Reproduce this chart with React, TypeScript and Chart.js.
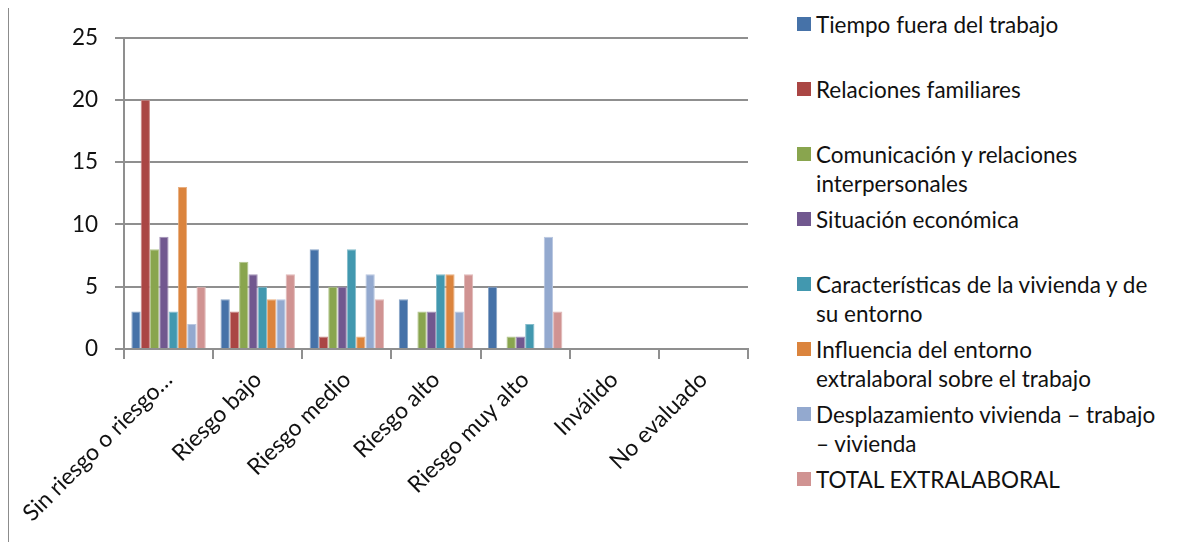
import React, { useEffect, useRef } from "react";
import { Chart, registerables } from "chart.js";

Chart.register(...registerables);

// Risk levels on the category axis
const categories = [
  "Sin riesgo o riesgo…",
  "Riesgo bajo",
  "Riesgo medio",
  "Riesgo alto",
  "Riesgo muy alto",
  "Inválido",
  "No evaluado",
];

// Counts per dimension, one value per risk level
const tiempoFuera = [3, 4, 8, 4, 5, 0, 0];
const relacionesFamiliares = [20, 3, 1, 0, 0, 0, 0];
const comunicacion = [8, 7, 5, 3, 1, 0, 0];
const situacionEconomica = [9, 6, 5, 3, 1, 0, 0];
const caracteristicasVivienda = [3, 5, 8, 6, 2, 0, 0];
const influenciaEntorno = [13, 4, 1, 6, 0, 0, 0];
const desplazamiento = [2, 4, 6, 3, 9, 0, 0];
const totalExtralaboral = [5, 6, 4, 6, 3, 0, 0];

// Legend text, with the line breaks used in the legend column
const seriesNames = [
  "Tiempo fuera del trabajo",
  "Relaciones familiares",
  "Comunicación y relaciones\ninterpersonales",
  "Situación económica",
  "Características de la vivienda y de\nsu entorno",
  "Influencia del entorno\nextralaboral sobre el trabajo",
  "Desplazamiento vivienda – trabajo\n– vivienda",
  "TOTAL EXTRALABORAL",
];

const seriesValues = [
  tiempoFuera,
  relacionesFamiliares,
  comunicacion,
  situacionEconomica,
  caracteristicasVivienda,
  influenciaEntorno,
  desplazamiento,
  totalExtralaboral,
];

const seriesColors = [
  "#4672A8",
  "#AA4644",
  "#89A54E",
  "#71588F",
  "#4298AF",
  "#DB843D",
  "#93A9CF",
  "#D09392",
];

const yMin = 0;
const yMax = 25;
const yStep = 5;

const FONT = "Lato, 'Open Sans', sans-serif";
const FONT_SIZE = 22.5;
const TEXT = "#111111";
const GRID = "#8f8f8f";

function lighten(hex: string, amt: number): string {
  const n = parseInt(hex.slice(1), 16);
  const r = (n >> 16) & 255;
  const g = (n >> 8) & 255;
  const b = n & 255;
  const f = (c: number) => Math.round(c + (255 - c) * amt);
  return `rgb(${f(r)}, ${f(g)}, ${f(b)})`;
}

function BarChart() {
  const ref = useRef<HTMLCanvasElement | null>(null);

  useEffect(() => {
    if (!ref.current) return;
    const chart = new Chart(ref.current, {
      type: "bar",
      data: {
        labels: categories,
        datasets: seriesNames.map((name, i) => ({
          label: name.replace("\n", " "),
          data: seriesValues[i],
          backgroundColor: seriesColors[i],
          borderColor: lighten(seriesColors[i], 0.35),
          borderWidth: { top: 1, left: 1, right: 1, bottom: 0 },
          categoryPercentage: 0.835,
          barPercentage: 1.0,
        })),
      },
      options: {
        responsive: false,
        animation: false,
        layout: { padding: { left: 0, top: 28, right: 21, bottom: 0 } },
        plugins: {
          legend: { display: false },
          tooltip: { enabled: false },
        },
        scales: {
          x: {
            grid: {
              drawOnChartArea: false,
              drawTicks: true,
              tickLength: 10,
              color: GRID,
              lineWidth: 2,
              offset: true,
            },
            border: { display: true, color: GRID, width: 2 },
            ticks: {
              autoSkip: false,
              maxRotation: 45,
              minRotation: 45,
              color: TEXT,
              font: { family: FONT, size: 23 },
              padding: 7,
            },
            afterFit: (s: any) => {
              s.height = 193;
            },
          },
          y: {
            min: yMin,
            max: yMax,
            ticks: {
              stepSize: yStep,
              color: TEXT,
              font: { family: FONT, size: FONT_SIZE },
              padding: 17,
            },
            grid: { color: GRID, lineWidth: 2, tickLength: 9, drawTicks: true },
            border: { display: true, color: GRID, width: 2 },
            afterFit: (s: any) => {
              s.width = 115;
            },
          },
        },
      },
    });
    return () => chart.destroy();
  }, []);

  return (
    <canvas
      ref={ref}
      width={760}
      height={535}
      style={{ position: "absolute", left: 0, top: 0, width: 760, height: 535 }}
    />
  );
}

function Legend() {
  return (
    <>
      {seriesNames.map((name, i) => {
        const lines = name.split("\n");
        const top = 24 + i * 65 - 7;
        return (
          <div
            key={name}
            style={{
              position: "absolute",
              left: 788,
              top: top - 14,
              display: "flex",
              alignItems: "flex-start",
              fontFamily: FONT,
              fontSize: FONT_SIZE,
              lineHeight: "29px",
              color: TEXT,
              whiteSpace: "nowrap",
            }}
          >
            <span
              style={{
                display: "inline-block",
                width: 14,
                height: 14,
                marginTop: 7,
                marginRight: 5,
                background: seriesColors[i],
              }}
            />
            <div>
              {lines.map((l) => (
                <div key={l}>{l}</div>
              ))}
            </div>
          </div>
        );
      })}
    </>
  );
}

export default function App() {
  return (
    <div
      style={{
        position: "relative",
        width: 1170,
        height: 536,
        marginTop: -2,
        boxSizing: "border-box",
        borderLeft: "1px solid #8c8c8c",
        borderTop: "1px solid #8c8c8c",
        overflow: "hidden",
      }}
    >
      <BarChart />
      <Legend />
    </div>
  );
}
